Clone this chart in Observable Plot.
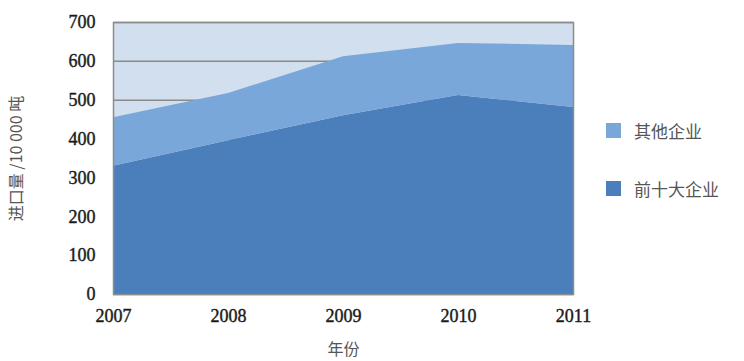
<!DOCTYPE html>
<html><head><meta charset="utf-8">
<script src="https://cdn.jsdelivr.net/npm/d3@7"></script>
<script src="https://cdn.jsdelivr.net/npm/@observablehq/plot@0.6"></script>
<style>
body{margin:0;background:#fff;}
#wrap{position:relative;width:744px;height:361px;}
#legend{position:absolute;left:606px;top:118px;font-family:"Noto Sans CJK SC",sans-serif;font-size:17px;color:#555;}
.item{display:flex;align-items:center;height:24px;margin-bottom:34px;}
.sw{width:15px;height:15px;margin-right:13px;}
svg .tick-serif text{font-family:"Liberation Serif","DejaVu Serif",serif !important;font-size:18px !important;}
</style></head>
<body><div id="wrap"><div id="legend"></div></div>
<script>
const years = [2007, 2008, 2009, 2010, 2011];
const top10 = [330, 396, 460, 512, 481];
const others = [125, 121, 152, 134, 160];
const seriesNames = ["前十大企业", "其他企业"];
const seriesColors = ["#4a7fbb", "#79a7d9"];
const yTicks = [0, 100, 200, 300, 400, 500, 600, 700];

const data = [];
years.forEach((y, i) => {
  data.push({year: y, series: seriesNames[0], value: top10[i]});
  data.push({year: y, series: seriesNames[1], value: others[i]});
});

const chart = Plot.plot({
  width: 744, height: 361,
  marginLeft: 113, marginRight: 171, marginTop: 22, marginBottom: 67,
  style: {fontSize: "15px", color: "#1a1a1a", background: "transparent"},
  x: {domain: [2007, 2011]},
  y: {domain: [0, 700]},
  color: {domain: seriesNames, range: seriesColors},
  marks: [
    Plot.frame({fill: "#d2dfef"}),
    Plot.gridY(yTicks, {stroke: "#8a8a8a", strokeOpacity: 1, strokeWidth: 1.5}),
    Plot.areaY(data, {x: "year", y: "value", fill: "series", order: seriesNames, z: "series"}),
    Plot.frame({stroke: "#8c8c8c", strokeWidth: 1.5}),
    Plot.axisY(yTicks, {tickSize: 0, tickPadding: 18, fill: "#1a1a1a", label: "进口量 /10 000 吨", labelAnchor: "center", labelArrow: "none", labelOffset: 103}),
    Plot.axisX(years, {tickSize: 0, tickPadding: 15, tickFormat: d => String(d), fill: "#1a1a1a", label: "年份", labelAnchor: "center", labelArrow: "none", labelOffset: 60})
  ]
});
d3.select(chart).selectAll("g[aria-label='y-axis tick label'], g[aria-label='x-axis tick label']")
  .classed("tick-serif", true)
  .attr("font-family", null)
  .selectAll("text")
  .style("stroke", "#1a1a1a").style("stroke-width", "0.4px");
d3.select(chart).selectAll("g[aria-label='y-axis label'] text, g[aria-label='x-axis label'] text")
  .style("font-family", "'Noto Sans CJK SC', sans-serif").style("font-size", "16px").style("font-weight", "normal").attr("fill", "#555");
document.getElementById("wrap").prepend(chart);
const leg = document.getElementById("legend");
[1, 0].forEach(i => {
  const d = document.createElement("div"); d.className = "item";
  d.innerHTML = `<span class="sw" style="background:${seriesColors[i]}"></span><span>${seriesNames[i]}</span>`;
  leg.appendChild(d);
});
</script></body></html>
